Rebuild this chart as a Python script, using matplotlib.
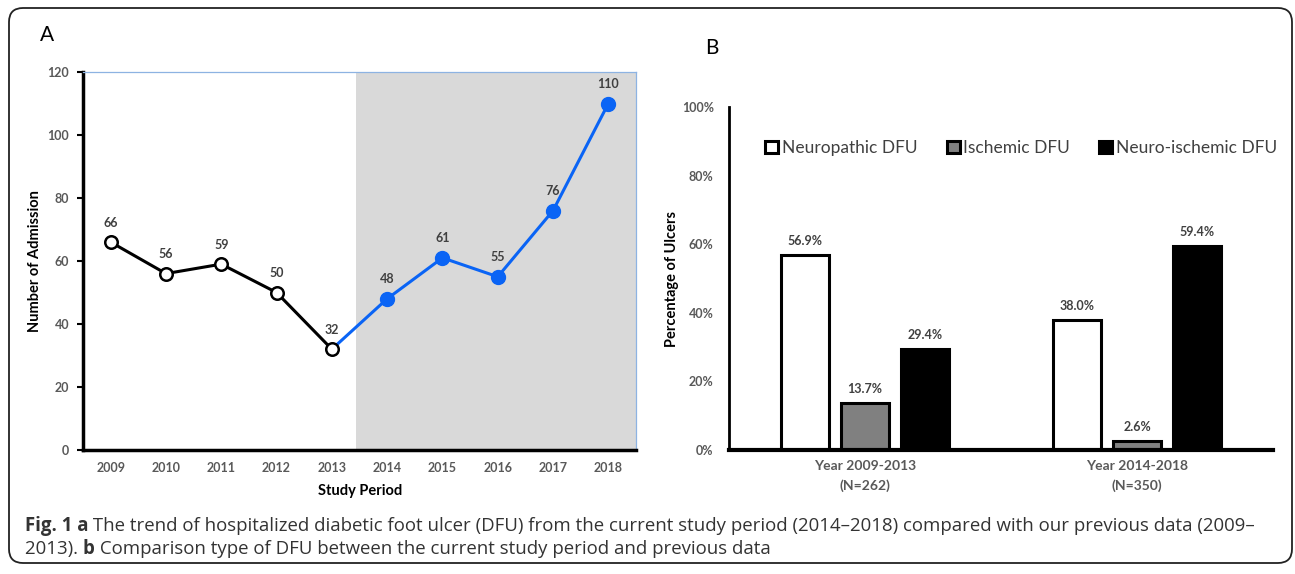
import matplotlib
matplotlib.use('Agg')
import matplotlib.pyplot as plt
import numpy as np
from matplotlib.patches import FancyBboxPatch

# --- data ---
years = ['2009', '2010', '2011', '2012', '2013', '2014', '2015', '2016', '2017', '2018']
admissions = [66, 56, 59, 50, 32, 48, 61, 55, 76, 110]

groups = ['Year 2009-2013\n(N=262)', 'Year 2014-2018\n(N=350)']
dfu_types = ['Neuropathic DFU', 'Ischemic DFU', 'Neuro-ischemic DFU']
neuropathic = [56.9, 38.0]
ischemic = [13.7, 2.6]
neuro_ischemic = [29.4, 59.4]

W, H, dpi = 1295, 574, 100
plt.rcParams['font.family'] = ['Lato', 'DejaVu Sans']
tick_gray = '#595959'
lab_gray = '#404040'
blue = '#0a64f5'

fig = plt.figure(figsize=(W / dpi, H / dpi), dpi=dpi, facecolor='white')

def px(l, t, r, b):
    # pixel box (left, top, right, bottom) -> figure fraction rect
    return [l / W, (H - b) / H, (r - l) / W, (b - t) / H]

# rounded frame around the whole figure
bg = fig.add_axes([0, 0, 1, 1], zorder=-1)
bg.set_xlim(0, W)
bg.set_ylim(H, 0)
bg.axis('off')
bg.add_patch(FancyBboxPatch((9, 8), 1283, 555, boxstyle='round,pad=0,rounding_size=14',
                            fill=False, edgecolor='#222222', linewidth=1.3))

# ---------------- panel A ----------------
axA = fig.add_axes(px(83, 72, 636, 450))
x = np.arange(len(years))
axA.axvspan(4.43, 9.5, color='#d9d9d9', zorder=0, linewidth=0)
axA.plot(x[4:], admissions[4:], color=blue, lw=2.2, zorder=2)
axA.plot(x[5:], admissions[5:], 'o', color=blue, ms=10, zorder=3)
axA.plot(x[:5], admissions[:5], color='black', lw=2.2, marker='o', ms=9,
         mfc='white', mec='black', mew=1.8, zorder=4)
for xi, v in zip(x, admissions):
    axA.annotate(str(v), (xi, v), xytext=(0, 14), textcoords='offset points',
                 ha='center', va='center', fontsize=9, fontweight='bold', color=lab_gray)
axA.set_xlim(-0.5, 9.5)
axA.set_ylim(0, 120)
axA.set_yticks(range(0, 121, 20))
axA.set_xticks(x)
axA.set_xticklabels(years)
axA.tick_params(axis='y', length=4, width=1.5, color='black', pad=6)
axA.tick_params(axis='x', length=0, pad=9)
for lab in axA.get_xticklabels() + axA.get_yticklabels():
    lab.set_fontweight('bold')
    lab.set_color(tick_gray)
    lab.set_fontsize(9)
for s in ['left', 'bottom']:
    axA.spines[s].set_linewidth(2.5)
    axA.spines[s].set_color('black')
for s in ['top', 'right']:
    axA.spines[s].set_linewidth(0.9)
    axA.spines[s].set_color('#8db3e2')
axA.spines['bottom'].set_zorder(5)

fig.text(35 / W, 1 - 261 / H, 'Number of Admission', rotation=90, ha='center', va='center',
         fontsize=10.5, fontweight='bold')
fig.text(360 / W, 1 - 491 / H, 'Study Period', ha='center', va='center',
         fontsize=10.5, fontweight='bold')
fig.text(47 / W, 1 - 35 / H, 'A', ha='center', va='center', fontsize=15)

# ---------------- panel B ----------------
axB = fig.add_axes(px(729, 107, 1273, 450))
gx = np.arange(len(groups))
bw = 0.178
off = 0.22
series = [neuropathic, ischemic, neuro_ischemic]
colors = ['white', '#808080', 'black']
for i, (vals, c, name) in enumerate(zip(series, colors, dfu_types)):
    bars = axB.bar(gx + (i - 1) * off, vals, bw, color=c, edgecolor='black',
                   linewidth=2.2, label=name, zorder=2)
    for b, v in zip(bars, vals):
        axB.annotate(f'{v:.1f}%', (b.get_x() + b.get_width() / 2, v), xytext=(0, 10),
                     textcoords='offset points', ha='center', va='center',
                     fontsize=9, fontweight='bold', color=lab_gray)
axB.set_xlim(-0.5, 1.5)
axB.set_ylim(0, 100)
axB.set_yticks(range(0, 101, 20))
axB.set_yticklabels([f'{t}%' for t in range(0, 101, 20)])
axB.set_xticks(gx)
axB.set_xticklabels(groups)
axB.tick_params(axis='y', length=0, pad=11)
axB.tick_params(axis='x', length=0, pad=7)
for lab in axB.get_yticklabels():
    lab.set_fontweight('bold')
    lab.set_color(tick_gray)
    lab.set_fontsize(9)
for lab in axB.get_xticklabels():
    lab.set_fontweight('bold')
    lab.set_color(tick_gray)
    lab.set_fontsize(10)
    lab.set_linespacing(1.75)
axB.spines['left'].set_linewidth(2)
axB.spines['bottom'].set_linewidth(3)
axB.spines['top'].set_visible(False)
axB.spines['right'].set_visible(False)
axB.spines['bottom'].set_zorder(5)

leg = axB.legend(loc='center', bbox_to_anchor=(0.537, 0.88), ncol=3, frameon=False,
                 fontsize=12.5, handlelength=0.75, handleheight=0.75, handletextpad=0.2,
                 columnspacing=1.7, borderaxespad=0)
for t in leg.get_texts():
    t.set_color(lab_gray)

fig.text(672 / W, 1 - 279 / H, 'Percentage of Ulcers', rotation=90, ha='center', va='center',
         fontsize=10.5, fontweight='bold')
fig.text(712 / W, 1 - 48 / H, 'B', ha='center', va='center', fontsize=15)

# ---------------- caption ----------------
cap_color = '#333333'
line1 = [('Fig. 1 a', 'bold'),
         (' The trend of hospitalized diabetic foot ulcer (DFU) from the current study period '
          '(2014\u20132018) compared with our previous data (2009\u2013', 'normal')]
line2 = [('2013). ', 'normal'), ('b', 'bold'),
         (' Comparison type of DFU between the current study period and previous data', 'normal')]

fig.canvas.draw()
renderer = fig.canvas.get_renderer()
for pieces, base in [(line1, 531), (line2, 554)]:
    xpos = 25
    for txt, wt in pieces:
        t = fig.text(xpos / W, 1 - base / H, txt, ha='left', va='baseline', fontsize=13.4,
                     fontweight=wt, color=cap_color, family=['Open Sans', 'DejaVu Sans'])
        xpos += t.get_window_extent(renderer).width

fig.savefig('out.png', dpi=dpi)
